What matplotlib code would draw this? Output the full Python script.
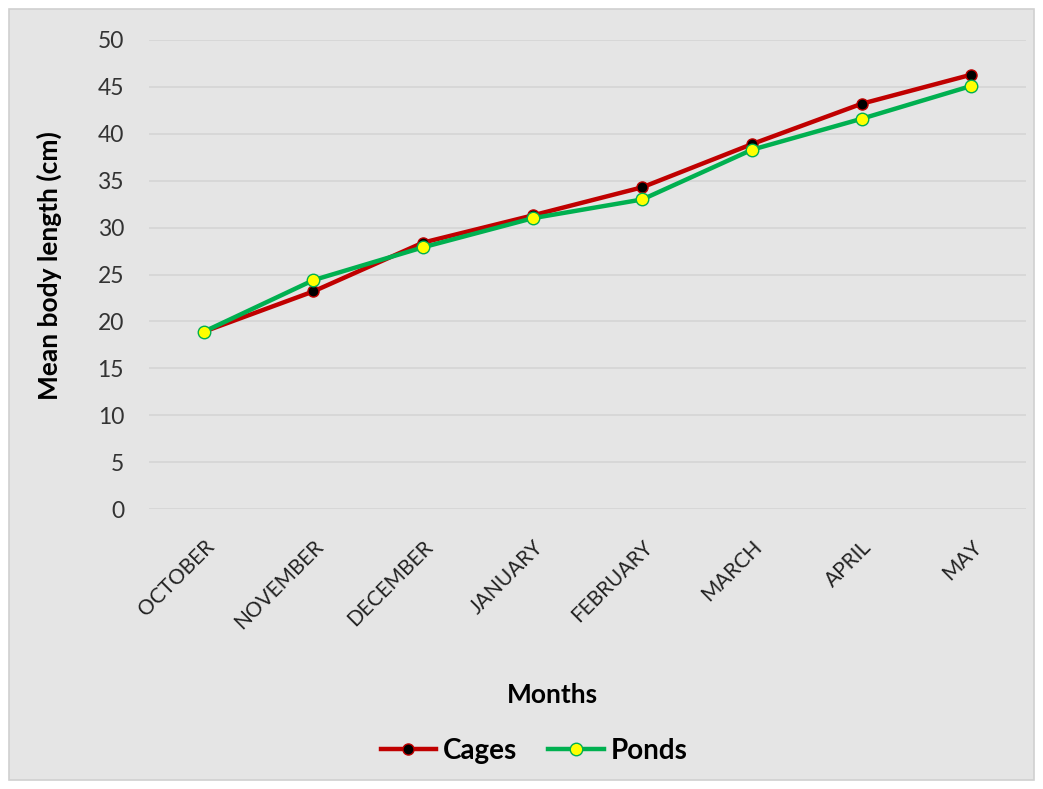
import matplotlib
matplotlib.use("Agg")
import matplotlib.pyplot as plt
from matplotlib.patches import Rectangle

months = ["OCTOBER", "NOVEMBER", "DECEMBER", "JANUARY", "FEBRUARY", "MARCH", "APRIL", "MAY"]
cages = [18.9, 23.2, 28.4, 31.3, 34.3, 38.9, 43.2, 46.3]
ponds = [18.9, 24.4, 27.9, 31.0, 33.0, 38.3, 41.6, 45.1]
y_ticks = [0, 5, 10, 15, 20, 25, 30, 35, 40, 45, 50]

plt.rcParams["font.family"] = ["Lato", "DejaVu Sans"]

bg = "#e5e5e5"
W, H = 1043, 789
fig = plt.figure(figsize=(W / 100, H / 100), dpi=100)
fig.patch.set_facecolor("white")
fig.patches.append(Rectangle((9 / W, 9 / H), (W - 18) / W, (H - 18) / H,
                             transform=fig.transFigure, facecolor=bg,
                             edgecolor="#d0d0d0", linewidth=1.2, zorder=-10))

ax = fig.add_axes([149 / W, 1 - 509 / H, (1026 - 149) / W, (509 - 40) / H])
ax.set_facecolor(bg)

x = list(range(len(months)))
ax.plot(x, cages, color="#c00000", linewidth=3.2, marker="o", markersize=8,
        markerfacecolor="black", markeredgecolor="#c00000", markeredgewidth=1,
        label="Cages", zorder=3)
ax.plot(x, ponds, color="#00b050", linewidth=3.2, marker="o", markersize=9,
        markerfacecolor="#ffff00", markeredgecolor="#00b050", markeredgewidth=1,
        label="Ponds", zorder=4)

ax.set_xlim(-0.5, len(months) - 0.5)
ax.set_ylim(0, 50)
ax.set_yticks(y_ticks)
ax.set_yticklabels([str(v) for v in y_ticks], fontsize=16.5, color="#333333")
ax.set_xticks(x)
ax.set_xticklabels(months, rotation=45, ha="right", rotation_mode="anchor",
                   fontsize=15, color="#222222")
ax.tick_params(axis="both", length=0)
ax.tick_params(axis="y", pad=18)
ax.tick_params(axis="x", pad=20)
ax.grid(axis="y", color="#d5d5d5", linewidth=1.2)
ax.set_axisbelow(True)
for s in ax.spines.values():
    s.set_visible(False)

ax.set_ylabel("Mean body length (cm)", fontsize=19, fontweight="bold")
ax.yaxis.set_label_coords(-0.099, 0.52)
fig.text(552 / W, 1 - 695 / H, "Months", fontsize=19, fontweight="bold",
         ha="center", va="center")

leg = fig.legend(loc="center", bbox_to_anchor=(534 / W, 1 - 751 / H), ncol=2,
                 frameon=False, fontsize=20, handlelength=2.0, columnspacing=1.1,
                 handletextpad=0.25)
for t in leg.get_texts():
    t.set_fontweight("bold")

fig.savefig("out.png", dpi=100, facecolor=fig.get_facecolor())
